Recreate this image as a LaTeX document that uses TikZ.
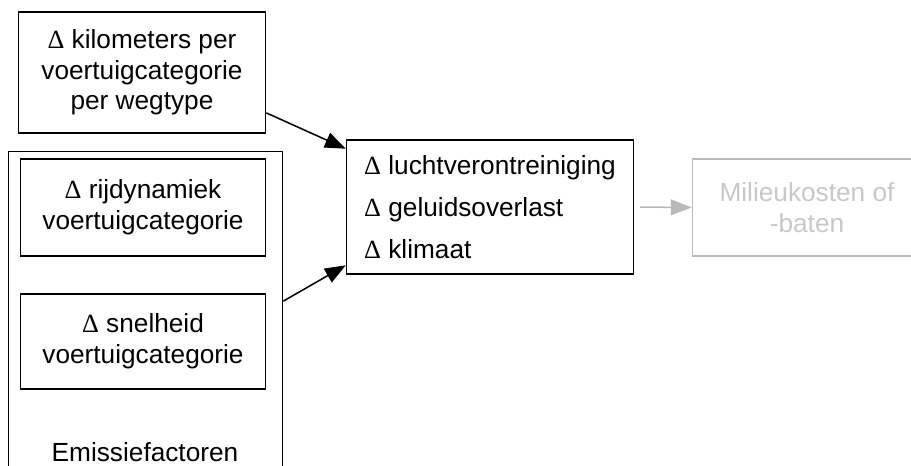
\documentclass[tikz,border=0pt]{standalone}
\usepackage{fontspec}
\setmainfont{Liberation Sans}
\newfontfamily\deltafont{Liberation Serif}
\usetikzlibrary{arrows.meta,positioning}
\definecolor{diagInk}{RGB}{0,0,0}
\definecolor{diagGrey}{RGB}{185,185,185}
\definecolor{diagGreyText}{RGB}{200,200,200}
\newcommand{\dlt}{{\deltafont Δ}\ }

\begin{document}
\begin{tikzpicture}[
  x=0.01608cm, y=-0.01608cm,
  box/.style={rectangle, draw=diagInk, line width=0.7pt, inner sep=0pt,
              align=center, font=\fontsize{12}{14}\selectfont},
  greybox/.style={box, draw=diagGrey, text=diagGreyText},
  arr/.style={-{Triangle[length=9.5pt,width=7.2pt]}, line width=0.7pt},
  greyarr/.style={arr, diagGrey, shorten <=2.7pt},
]
\useasboundingbox (0,0) rectangle (911,466);

%%──────────────────────────────────────────────────────────────────
%% clipped title above the picture
%%──────────────────────────────────────────────────────────────────
\node[anchor=base, font=\fontsize{12}{14}\selectfont, inner sep=0pt] (title) at (444,-5.5) {g};

%%──────────────────────────────────────────────────────────────────
%% LEFT: inputs
%%──────────────────────────────────────────────────────────────────
\node[box, minimum width=248*0.456pt, minimum height=121*0.456pt] (km) at (142,72.5)
      {\dlt kilometers per\\voertuigcategorie\\per wegtype};

% Emission factor frame (runs off the bottom)
\node[box, minimum width=275*0.456pt, minimum height=339*0.456pt] (emis) at (145.5,320.5) {};
\node[font=\fontsize{12}{14}\selectfont, inner sep=0pt] (emislabel) at (145,452) {Emissiefactoren};

\node[box, minimum width=246*0.456pt, minimum height=97*0.456pt] (rij) at (143,207.5)
      {\dlt rijdynamiek\\voertuigcategorie};
\node[box, minimum width=246*0.456pt, minimum height=95*0.456pt] (snel) at (143,341.5)
      {\dlt snelheid\\voertuigcategorie};

%%──────────────────────────────────────────────────────────────────
%% MIDDLE: effects
%%──────────────────────────────────────────────────────────────────
\node[box, align=left, font=\fontsize{12}{19.2}\selectfont,
      minimum width=288*0.456pt, minimum height=134*0.456pt] (eff) at (490,207)
      {\dlt luchtverontreiniging\\\dlt geluidsoverlast\\\dlt klimaat};

%%──────────────────────────────────────────────────────────────────
%% RIGHT: costs (greyed out, runs off the right edge)
%%──────────────────────────────────────────────────────────────────
\node[greybox, minimum width=230*0.456pt, minimum height=97*0.456pt] (kost) at (807,207.5)
      {Milieukosten of\\-baten};

% Arrows
\draw[arr] (km.-18) -- (eff.158);
\draw[arr] (emis.8) -- (eff.202);
\draw[greyarr] (eff.east) -- (kost.west);

\end{tikzpicture}
\end{document}
